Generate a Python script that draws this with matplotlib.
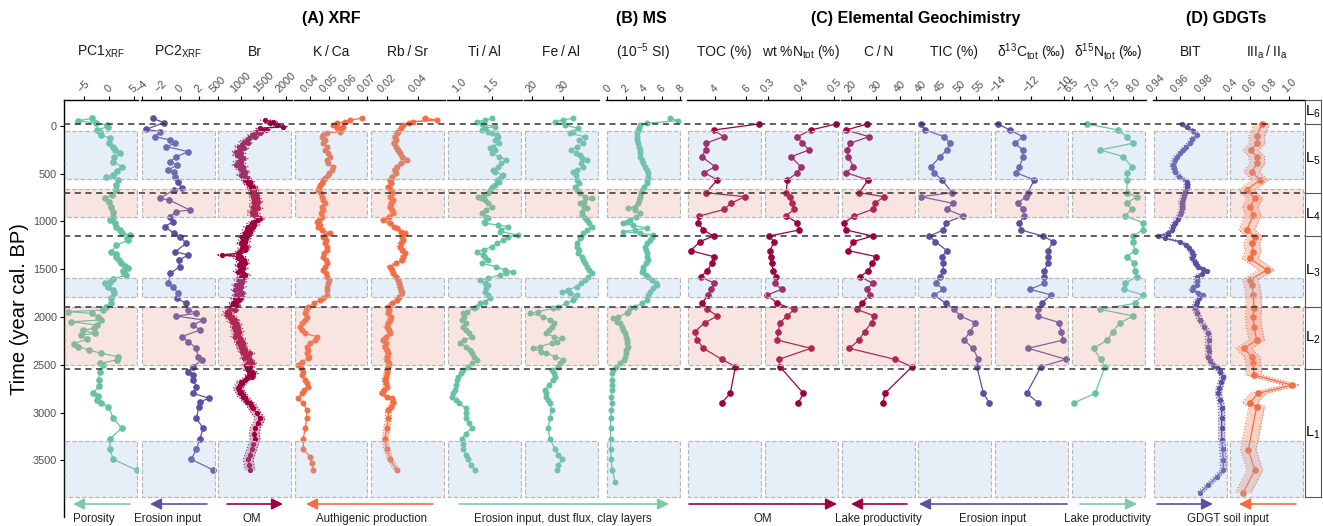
import numpy as np
import matplotlib.pyplot as plt
import matplotlib.transforms as mtransforms
from matplotlib.patches import Rectangle, FancyArrowPatch
from matplotlib.colors import to_rgba

plt.rcParams['font.family'] = ['Liberation Sans', 'DejaVu Sans']
plt.rcParams['mathtext.default'] = 'regular'

W, H = 1323, 526
GREEN, PURPLE, RED, ORANGE = '#66c2a5', '#5e4fa2', '#9e0142', '#f46d43'
TS = '\u2009'

# ---- data: (age in yr cal. BP, value) ----
pc1 = [(-80, -3.4), (-56, -6.2), (-28, -2.6), (-10, -0.4), (7, -0.2), (40, -2.4), (60, -1.8), (94, -1.5),
       (129, 0.2), (180, 0.0), (216, 0.8), (250, 1.2), (286, 2.2), (330, 1.0), (373, 0.9), (426, 2.6),
       (470, 1.7), (513, 0.9), (531, -0.5), (565, 1.9), (620, 1.5), (670, 1.5), (720, 0.6), (757, -0.8),
       (800, 0.0), (845, 0.4), (900, 0.9), (949, 0.9), (984, 0.3), (1020, 1.2), (1054, 1.5), (1090, 2.2),
       (1124, 2.6), (1141, 4.3), (1170, 3.6), (1194, 3.9), (1250, 1.5), (1316, 0.5), (1340, 1.4), (1368, 1.5),
       (1400, 2.1), (1438, 2.4), (1470, 3.3), (1490, 3.9), (1520, 2.9), (1543, 3.1), (1560, 3.5), (1600, 0.9),
       (1630, 0.2), (1647, -0.8), (1682, -0.1), (1720, 0.9), (1752, 1.1), (1800, 0.4), (1857, 0.5), (1900, -0.5),
       (1927, -1.2), (1944, -8.3), (1962, -3.5), (2000, -2.2), (2031, -1.5), (2050, -7.6), (2084, -2.5),
       (2120, -3.0), (2136, -5.3), (2171, -2.9), (2188, -5.6), (2230, -4.4), (2280, -7.0), (2311, -6.2),
       (2346, -4.0), (2380, -1.6), (2415, 1.9), (2450, 1.6), (2485, -1.8), (2502, -1.1), (2572, -1.8),
       (2659, -2.1), (2720, -2.0), (2799, -3.2), (2830, -2.2), (2869, -2.5), (2900, -1.5), (2938, -0.1),
       (3060, 0.9), (3165, 2.6), (3277, 0.2), (3385, 0.2), (3490, 0.9), (3602, 5.6)]

pc2 = [(-80, -2.8), (-35, -1.7), (35, -3.5), (59, -2.1), (112, -2.6), (147, -1.0), (182, -0.5), (216, -1.4),
       (269, 0.9), (321, -0.35), (373, -1.0), (408, -0.3), (461, -1.2), (478, -0.6), (531, -0.5), (583, -0.2),
       (653, 0.2), (670, -0.6), (757, -2.1), (775, -1.1), (880, 1.05), (897, -0.4), (949, -1.0), (1002, -0.7),
       (1054, -1.6), (1124, -0.6), (1159, 0.0), (1229, 0.7), (1316, -0.5), (1351, 0.9), (1403, -0.1),
       (1473, 0.0), (1543, -1.0), (1647, -1.2), (1682, -0.7), (1752, -0.2), (1805, -0.3), (1857, 0.7),
       (1927, 0.9), (1962, 1.75), (1990, -0.35), (2031, 2.45), (2084, 1.4), (2136, 2.1), (2206, 0.2),
       (2258, 0.9), (2328, 1.75), (2415, 1.9), (2450, 2.3), (2520, 1.4), (2572, 0.9), (2607, 1.4), (2660, 1.4),
       (2729, 1.75), (2799, 1.4), (2851, 3.1), (2887, 2.1), (2939, 2.0), (3061, 1.75), (3166, 2.45),
       (3277, 2.1), (3385, 1.75), (3490, 1.2), (3602, 3.5)]

br = [(-63, 1535), (-45, 1718), (-28, 1650), (-10, 1800), (7, 1940), (24, 1424), (42, 1560), (59, 1330),
      (77, 1420), (94, 1240), (112, 1310), (129, 1180), (147, 1129), (164, 1060), (181, 1150), (199, 1018),
      (216, 960), (234, 1080), (251, 980), (269, 900), (286, 1000), (304, 907), (321, 980), (339, 1050),
      (356, 1010), (373, 940), (391, 1000), (408, 900), (426, 1054), (443, 980), (461, 1020), (478, 1100),
      (496, 1054), (513, 1000), (530, 1090), (548, 1130), (565, 1100), (583, 1202), (600, 1150), (618, 1202),
      (635, 1280), (653, 1230), (670, 1300), (688, 1250), (705, 1240), (722, 1330), (740, 1280), (757, 1350),
      (775, 1300), (792, 1390), (810, 1300), (827, 1330), (845, 1280), (862, 1380), (880, 1290), (897, 1240),
      (914, 1320), (932, 1260), (949, 1360), (967, 1420), (984, 1386), (1002, 1300), (1019, 1240),
      (1037, 1300), (1054, 1164), (1071, 1240), (1089, 1140), (1106, 1200), (1124, 1100), (1141, 1160),
      (1159, 1018), (1176, 1120), (1194, 1050), (1211, 1100), (1228, 1000), (1246, 1080), (1263, 1120),
      (1281, 1030), (1298, 1090), (1316, 980), (1333, 944), (1351, 575), (1368, 1000), (1386, 944),
      (1403, 1060), (1420, 1010), (1438, 1090), (1455, 960), (1473, 1020), (1490, 1050), (1508, 980),
      (1525, 940), (1543, 1040), (1560, 1100), (1577, 1000), (1595, 1050), (1612, 960), (1630, 1020),
      (1647, 980), (1665, 900), (1682, 1010), (1700, 940), (1717, 880), (1735, 980), (1752, 1020), (1770, 900),
      (1787, 1000), (1804, 860), (1822, 960), (1839, 900), (1857, 832), (1874, 900), (1892, 800), (1909, 760),
      (1927, 860), (1944, 700), (1961, 740), (1979, 686), (1996, 800), (2014, 760), (2031, 880), (2049, 800),
      (2066, 900), (2084, 920), (2101, 850), (2119, 930), (2136, 880), (2153, 960), (2171, 900), (2188, 940),
      (2206, 880), (2223, 990), (2241, 1000), (2258, 940), (2275, 1040), (2293, 980), (2310, 1050),
      (2328, 1000), (2345, 1100), (2363, 1030), (2380, 1200), (2398, 1100), (2415, 1150), (2433, 1080),
      (2450, 1202), (2467, 1150), (2485, 1250), (2502, 1120), (2520, 1202), (2537, 1130), (2555, 1164),
      (2572, 1240), (2590, 1275), (2607, 1180), (2624, 1240), (2642, 1140), (2659, 1090), (2677, 1000),
      (2694, 1020), (2712, 980), (2729, 960), (2746, 943), (2764, 960), (2781, 1000), (2799, 990),
      (2816, 1050), (2834, 1040), (2851, 1091), (2869, 1120), (2886, 1140), (2904, 1200), (2921, 1230),
      (2939, 1250), (2956, 1275), (3010, 1350), (3061, 1424), (3110, 1380), (3165, 1313), (3220, 1300),
      (3277, 1313), (3330, 1280), (3385, 1239), (3440, 1200), (3490, 1164), (3550, 1180), (3602, 1202)]

kca = [(-80, 0.0671), (-63, 0.061), (-45, 0.0585), (-28, 0.054), (-10, 0.052), (7, 0.0575), (24, 0.054),
       (42, 0.0565), (59, 0.0557), (77, 0.0487), (94, 0.047), (112, 0.0461), (147, 0.0478), (181, 0.047),
       (216, 0.0487), (251, 0.0478), (286, 0.0496), (321, 0.0505), (356, 0.0487), (391, 0.0496), (426, 0.052),
       (461, 0.0514), (496, 0.05), (513, 0.0496), (548, 0.048), (565, 0.047), (600, 0.0461), (618, 0.0452),
       (653, 0.0445), (670, 0.0443), (705, 0.0455), (740, 0.0461), (775, 0.047), (810, 0.0478), (845, 0.0465),
       (880, 0.047), (914, 0.0455), (949, 0.0461), (984, 0.0445), (1002, 0.0435), (1037, 0.045), (1054, 0.0443),
       (1089, 0.0465), (1124, 0.0505), (1141, 0.048), (1159, 0.047), (1194, 0.0485), (1228, 0.0478),
       (1263, 0.049), (1298, 0.0487), (1333, 0.0475), (1368, 0.047), (1403, 0.0482), (1438, 0.0487),
       (1473, 0.0478), (1508, 0.047), (1543, 0.0482), (1577, 0.0487), (1612, 0.05), (1647, 0.0496),
       (1682, 0.049), (1717, 0.0487), (1769, 0.0487), (1804, 0.047), (1822, 0.0452), (1857, 0.042),
       (1892, 0.0391), (1927, 0.038), (1961, 0.0374), (1996, 0.0385), (2031, 0.0374), (2066, 0.036),
       (2101, 0.0348), (2136, 0.036), (2171, 0.0374), (2206, 0.0435), (2241, 0.0426), (2275, 0.04),
       (2310, 0.0383), (2345, 0.039), (2380, 0.0383), (2415, 0.0395), (2433, 0.0391), (2467, 0.036),
       (2502, 0.0339), (2537, 0.0355), (2572, 0.0365), (2607, 0.0356), (2659, 0.0374), (2694, 0.0385),
       (2729, 0.0391), (2764, 0.037), (2799, 0.0356), (2851, 0.0339), (2904, 0.0365), (2974, 0.0383),
       (3061, 0.0383), (3165, 0.0374), (3277, 0.0365), (3385, 0.0365), (3462, 0.04), (3532, 0.0409),
       (3602, 0.0417)]

rbsr = [(-80, 0.0442), (-63, 0.0517), (-45, 0.0368), (-28, 0.034), (-10, 0.0305), (24, 0.029), (59, 0.027),
        (77, 0.0263), (112, 0.025), (147, 0.0256), (181, 0.0245), (216, 0.026), (251, 0.027), (286, 0.0284),
        (321, 0.03), (356, 0.0327), (391, 0.029), (426, 0.0263), (461, 0.025), (496, 0.0256), (530, 0.0235),
        (565, 0.0221), (600, 0.023), (635, 0.021), (670, 0.0225), (705, 0.0235), (740, 0.0221), (775, 0.0242),
        (810, 0.023), (845, 0.0221), (880, 0.0235), (914, 0.0242), (949, 0.0215), (984, 0.0178), (1019, 0.0221),
        (1054, 0.0245), (1071, 0.0263), (1106, 0.029), (1124, 0.0316), (1159, 0.03), (1194, 0.0305),
        (1228, 0.029), (1263, 0.0284), (1298, 0.03), (1333, 0.0316), (1368, 0.0305), (1403, 0.0295),
        (1438, 0.026), (1473, 0.0221), (1508, 0.0235), (1543, 0.0242), (1577, 0.026), (1612, 0.0274),
        (1647, 0.028), (1682, 0.0284), (1717, 0.029), (1752, 0.0295), (1787, 0.028), (1822, 0.0263),
        (1857, 0.0235), (1892, 0.021), (1927, 0.0215), (1961, 0.021), (1996, 0.0225), (2031, 0.0221),
        (2066, 0.021), (2101, 0.02), (2136, 0.0215), (2171, 0.0221), (2206, 0.0195), (2241, 0.0178),
        (2275, 0.0195), (2310, 0.0189), (2345, 0.02), (2380, 0.021), (2415, 0.0205), (2450, 0.02),
        (2485, 0.0215), (2520, 0.021), (2555, 0.0205), (2590, 0.02), (2624, 0.0195), (2659, 0.0189),
        (2694, 0.0195), (2729, 0.02), (2764, 0.0185), (2799, 0.0168), (2834, 0.02), (2851, 0.0232),
        (2886, 0.024), (2904, 0.0242), (2939, 0.0225), (2974, 0.021), (3061, 0.021), (3165, 0.02),
        (3277, 0.0189), (3385, 0.02), (3490, 0.0221), (3602, 0.0263)]

tial = [(-80, 1.5), (-63, 1.4), (-45, 1.27), (-21, 1.35), (7, 1.55), (24, 1.4), (42, 1.35), (59, 1.45),
        (77, 1.5), (94, 1.58), (112, 1.6), (147, 1.55), (181, 1.61), (216, 1.52), (234, 1.47), (251, 1.55),
        (286, 1.5), (321, 1.62), (356, 1.73), (391, 1.65), (426, 1.6), (461, 1.52), (478, 1.55), (513, 1.68),
        (530, 1.65), (565, 1.58), (583, 1.62), (618, 1.55), (635, 1.5), (670, 1.48), (705, 1.45), (722, 1.38),
        (740, 1.29), (757, 1.34), (775, 1.39), (810, 1.45), (845, 1.5), (880, 1.42), (914, 1.35), (949, 1.42),
        (967, 1.45), (1002, 1.38), (1019, 1.4), (1037, 1.6), (1054, 1.76), (1089, 1.65), (1106, 1.63),
        (1141, 1.91), (1159, 1.75), (1194, 1.68), (1228, 1.58), (1263, 1.5), (1298, 1.38), (1316, 1.27),
        (1351, 1.36), (1368, 1.4), (1403, 1.45), (1438, 1.35), (1473, 1.57), (1508, 1.7), (1525, 1.83),
        (1543, 1.72), (1560, 1.63), (1595, 1.45), (1612, 1.32), (1647, 1.4), (1665, 1.45), (1700, 1.42),
        (1735, 1.4), (1770, 1.45), (1804, 1.47), (1839, 1.4), (1857, 1.32), (1892, 1.26), (1909, 1.22),
        (1944, 1.12), (1961, 1.06), (1996, 1.08), (2031, 1.04), (2066, 1.1), (2101, 1.05), (2136, 1.11),
        (2171, 1.15), (2206, 1.19), (2241, 1.08), (2275, 1.01), (2310, 1.1), (2345, 1.16), (2380, 1.2),
        (2415, 1.22), (2450, 1.27), (2485, 1.2), (2520, 1.14), (2555, 1.06), (2590, 1.02), (2624, 0.98),
        (2659, 0.96), (2712, 0.95), (2764, 0.93), (2799, 0.9), (2834, 0.88), (2869, 0.95), (2904, 0.99),
        (2956, 1.11), (3010, 1.1), (3061, 1.11), (3110, 1.15), (3165, 1.19), (3220, 1.1), (3277, 1.04),
        (3330, 1.05), (3385, 1.06), (3440, 1.1), (3490, 1.14), (3550, 1.18), (3602, 1.24)]

feal = [(-80, 33.1), (-63, 30.0), (-45, 27.4), (-10, 30.5), (24, 34.7), (59, 33.0), (77, 32.1), (112, 36.8),
        (147, 35.0), (181, 36.3), (216, 34.5), (251, 32.6), (286, 34.0), (304, 35.3), (339, 36.0), (356, 37.4),
        (391, 35.5), (426, 36.3), (461, 34.5), (478, 33.1), (513, 34.0), (565, 34.2), (600, 35.0), (635, 33.7),
        (670, 34.5), (705, 35.3), (740, 37.0), (757, 39.0), (792, 36.5), (810, 35.3), (845, 36.5), (862, 37.4),
        (897, 36.0), (932, 35.8), (967, 36.8), (984, 37.4), (1019, 38.0), (1054, 39.0), (1089, 37.5),
        (1124, 36.3), (1159, 35.5), (1176, 35.3), (1228, 34.5), (1263, 34.2), (1298, 35.0), (1333, 34.7),
        (1368, 35.8), (1403, 36.3), (1438, 36.8), (1473, 37.4), (1508, 38.2), (1543, 39.0), (1577, 37.8),
        (1612, 36.8), (1647, 35.5), (1682, 34.2), (1717, 31.5), (1735, 29.5), (1752, 32.0), (1769, 34.2),
        (1804, 33.5), (1822, 33.1), (1857, 31.0), (1892, 28.5), (1909, 26.8), (1944, 22.0), (1961, 19.5),
        (1996, 23.5), (2031, 25.8), (2066, 27.0), (2101, 26.3), (2136, 25.5), (2171, 24.7), (2206, 27.0),
        (2223, 29.5), (2258, 28.0), (2275, 26.3), (2310, 22.5), (2328, 20.5), (2363, 23.0), (2380, 24.7),
        (2415, 27.5), (2450, 30.0), (2485, 29.0), (2520, 28.4), (2555, 26.3), (2590, 27.0), (2624, 27.4),
        (2659, 26.8), (2712, 25.5), (2764, 24.2), (2799, 24.5), (2834, 24.7), (2869, 25.2), (2904, 25.8),
        (2974, 26.3), (3061, 25.8), (3165, 25.2), (3277, 25.8), (3385, 27.4), (3440, 28.5), (3490, 29.5),
        (3550, 28.5), (3602, 27.9)]

ms_si = [(-80, 6.9), (-56, 7.8), (-28, 4.33), (-10, 3.6), (24, 3.5), (42, 3.4), (77, 3.3), (112, 3.23),
         (147, 3.3), (181, 3.4), (216, 3.5), (251, 3.6), (286, 3.55), (321, 3.6), (356, 3.8), (391, 3.96),
         (426, 4.1), (461, 4.33), (496, 4.45), (530, 4.51), (565, 4.4), (600, 4.33), (635, 4.0), (670, 3.78),
         (705, 3.7), (740, 3.6), (775, 3.5), (810, 3.4), (845, 3.0), (862, 2.31), (880, 3.0), (914, 3.6),
         (949, 3.2), (984, 2.5), (1002, 2.2), (1019, 1.76), (1037, 2.8), (1071, 4.33), (1089, 3.0), (1106, 1.76),
         (1124, 3.6), (1141, 5.06), (1159, 4.9), (1194, 4.7), (1228, 4.4), (1263, 4.15), (1298, 4.2),
         (1333, 4.33), (1368, 4.4), (1403, 4.51), (1438, 4.3), (1473, 3.96), (1508, 3.9), (1525, 3.78),
         (1560, 4.2), (1577, 4.51), (1612, 4.9), (1647, 5.3), (1665, 5.43), (1700, 5.0), (1735, 4.7),
         (1770, 4.5), (1822, 4.33), (1857, 3.8), (1892, 3.0), (1909, 2.5), (1944, 2.3), (1961, 2.13),
         (1996, 1.2), (2014, 0.66), (2049, 1.1), (2066, 1.4), (2101, 1.6), (2136, 1.76), (2171, 1.9),
         (2206, 2.0), (2241, 2.13), (2275, 2.2), (2310, 2.31), (2345, 2.1), (2380, 2.0), (2415, 1.95),
         (2450, 1.8), (2485, 1.4), (2520, 0.9), (2555, 0.6), (2590, 0.55), (2659, 0.5), (2712, 0.55),
         (2764, 0.5), (2834, 0.45), (2904, 0.5), (2974, 0.45), (3061, 0.35), (3165, 0.35), (3277, 0.35),
         (3385, 0.35), (3490, 0.4), (3602, 0.55), (3724, 0.85)]

# discrete bulk-sediment samples (elemental geochemistry)
geo_age = [-21, 42, 112, 181, 251, 321, 426, 489, 565, 698, 740, 810, 873, 942, 1012, 1089, 1152, 1211,
           1305, 1368, 1431, 1518, 1577, 1647, 1710, 1769, 1857, 1920, 1989, 2059, 2153, 2241, 2328,
           2443, 2520, 2799, 2897]
toc = [6.8, 3.9, 4.55, 3.4, 3.4, 3.14, 4.0, 3.3, 4.15, 3.4, 5.9, 5.0, 4.6, 3.0, 2.9, 3.25, 3.9, 3.03,
       2.43, 3.9, 3.8, 3.5, 3.07, 3.94, 3.72, 3.57, 3.14, 3.5, 4.15, 3.35, 2.7, 2.86, 3.25, 4.43, 5.3,
       4.97, 4.43]
ntot = [0.505, 0.429, 0.388, 0.403, 0.424, 0.369, 0.398, 0.388, 0.358, 0.354, 0.366, 0.372, 0.378,
        0.353, 0.388, 0.393, 0.303, 0.317, 0.305, 0.307, 0.31, 0.315, 0.323, 0.32, 0.34, 0.297, 0.327,
        0.378, 0.358, 0.335, 0.33, 0.327, 0.429, 0.332, 0.335, 0.406, 0.391]
cn = [26.6, 18.0, 27.3, 19.6, 18.3, 18.9, 20.9, 18.0, 27.0, 23.3, 33.4, 29.8, 28.8, 21.3, 17.2, 18.0,
      28.8, 20.9, 18.9, 30.2, 28.7, 27.0, 23.7, 28.8, 26.4, 27.7, 24.3, 22.3, 29.5, 28.4, 25.5, 23.3,
      19.3, 37.9, 44.9, 33.8, 33.1]
tic = [40.0, 41.1, 46.0, 47.5, 46.7, 45.0, 42.6, 43.4, 45.4, 48.1, 40.0, 48.2, 46.7, 50.8, 46.4, 45.8,
       42.2, 43.7, 46.7, 45.4, 45.7, 45.8, 45.0, 43.8, 45.8, 43.4, 46.4, 48.6, 50.1, 54.0, 52.7, 51.1,
       53.4, 54.8, 54.4, 56.1, 57.6]
d13c = [-14.0, -13.26, -12.5, -12.96, -12.5, -12.46, -12.7, -12.9, -11.8, -12.2, -12.3, -12.8, -12.46,
        -12.4, -12.7, -12.6, -11.3, -10.66, -11.0, -10.96, -11.0, -11.2, -11.2, -11.2, -12.06, -10.8,
        -11.36, -11.6, -11.6, -10.3, -10.2, -10.06, -12.16, -9.9, -11.4, -12.26, -11.56]
d15n = [6.87, 7.63, 7.84, 7.99, 7.19, 7.76, 7.96, 7.85, 7.85, 7.84, 8.08, 7.84, 7.96, 7.8, 8.23, 8.23,
        7.99, 7.99, 8.04, 7.84, 8.02, 8.04, 8.08, 7.8, 7.77, 8.23, 8.04, 7.19, 8.0, 7.68, 7.5, 7.37, 7.03,
        7.2, 7.31, 7.07, 6.56]

bit = [(-21, 0.9614), (15, 0.966), (49, 0.971), (94, 0.9737), (140, 0.97), (181, 0.9682), (216, 0.965),
       (251, 0.9627), (286, 0.96), (321, 0.9573), (360, 0.9555), (408, 0.954), (445, 0.955), (478, 0.9559),
       (530, 0.9595), (583, 0.9655), (620, 0.966), (653, 0.9655), (690, 0.964), (722, 0.9633), (760, 0.9625),
       (792, 0.9614), (830, 0.9618), (862, 0.962), (900, 0.961), (932, 0.96), (970, 0.958), (1012, 0.9559),
       (1050, 0.9545), (1089, 0.9532), (1124, 0.9504), (1152, 0.9421), (1176, 0.948), (1211, 0.96),
       (1246, 0.965), (1281, 0.9677), (1316, 0.9695), (1351, 0.971), (1386, 0.97), (1420, 0.9723),
       (1450, 0.9735), (1473, 0.975), (1500, 0.979), (1518, 0.982), (1545, 0.978), (1577, 0.9737),
       (1620, 0.974), (1665, 0.9737), (1690, 0.971), (1717, 0.9696), (1745, 0.975), (1769, 0.9792),
       (1800, 0.976), (1839, 0.9737), (1870, 0.973), (1909, 0.9723), (1960, 0.974), (2031, 0.9765),
       (2100, 0.98), (2171, 0.9833), (2240, 0.9835), (2310, 0.9833), (2360, 0.9836), (2415, 0.9833),
       (2460, 0.985), (2502, 0.9874), (2520, 0.9902), (2572, 0.9929), (2624, 0.9956), (2680, 0.994),
       (2740, 0.9925), (2799, 0.9915), (2870, 0.993), (2956, 0.9943), (3061, 0.9943), (3165, 0.9943),
       (3288, 0.9943), (3385, 0.9951), (3500, 0.9955), (3602, 0.9956), (3672, 0.9902), (3760, 0.983),
       (3839, 0.9765)]

iii_ii = [(-21, 0.719), (105, 0.668), (181, 0.675), (251, 0.606), (321, 0.668), (391, 0.675), (478, 0.616),
          (565, 0.702), (670, 0.565), (757, 0.65), (845, 0.599), (932, 0.633), (1089, 0.565), (1159, 0.65),
          (1228, 0.616), (1316, 0.633), (1386, 0.599), (1508, 0.771), (1612, 0.599), (1665, 0.62),
          (1769, 0.633), (1909, 0.64), (1996, 0.63), (2101, 0.64), (2241, 0.668), (2328, 0.537),
          (2415, 0.616), (2485, 0.633), (2607, 0.64), (2712, 1.028), (2799, 0.684), (2897, 0.599),
          (2939, 0.668), (3392, 0.581), (3602, 0.65), (3839, 0.53)]

# zones and lithological units
blue_zones = [(49, 552), (1592, 1791), (3298, 3885)]
pink_zones = [(660, 950), (1895, 2503)]
unit_bounds = [-20, 700, 1150, 1893, 2545]
unit_labels = ['L$_6$', 'L$_5$', 'L$_4$', 'L$_3$', 'L$_2$', 'L$_1$']
age_ticks = [0, 500, 1000, 1500, 2000, 2500, 3000, 3500]


def pairs(p):
    a = np.array(p, dtype=float)
    return a[:, 0], a[:, 1]


geo = np.array(geo_age, dtype=float)

# title, x0, x1 (px), xlim, ticks, tick labels, (age, values), colour, error half-width, marker size
panels = [
    ('PC1$_{XRF}$', 64, 138, (-9.1, 5.9), [-5, 0, 5], ['\u22125', '0', '5'], pairs(pc1), GREEN, None, 3.8),
    ('PC2$_{XRF}$', 141, 216, (-4.07, 3.8), [-4, -2, 0, 2], ['\u22124', '\u22122', '0', '2'], pairs(pc2), PURPLE, None, 3.8),
    ('Br', 217, 292, (470, 2135), [500, 1000, 1500, 2000], ['500', '1000', '1500', '2000'], pairs(br), RED, 110, 2.8),
    ('K' + TS + '/' + TS + 'Ca', 294, 368, (0.0316, 0.0704), [0.04, 0.05, 0.06, 0.07], ['0.04', '0.05', '0.06', '0.07'], pairs(kca), ORANGE, None, 3.3),
    ('Rb' + TS + '/' + TS + 'Sr', 370, 445, (0.0094, 0.057), [0.02, 0.04], ['0.02', '0.04'], pairs(rbsr), ORANGE, 0.0018, 3.3),
    ('Ti' + TS + '/' + TS + 'Al', 447, 522, (0.81, 1.97), [1.0, 1.5], ['1.0', '1.5'], pairs(tial), GREEN, None, 3.3),
    ('Fe' + TS + '/' + TS + 'Al', 524, 599, (17.6, 41.3), [20, 30], ['20', '30'], pairs(feal), GREEN, None, 3.3),
    ('(10$^{-5}$ SI)', 606, 681, (-0.15, 8.1), [0, 2, 4, 6, 8], ['0', '2', '4', '6', '8'], pairs(ms_si), GREEN, None, 3.3),
    ('TOC (%)', 687, 762, (2.2, 7.0), [4, 6], ['4', '6'], (geo, np.array(toc)), RED, None, 3.8),
    ('wt %N$_{tot}$ (%)', 764, 839, (0.287, 0.514), [0.3, 0.4, 0.5], ['0.3', '0.4', '0.5'], (geo, np.array(ntot)), RED, None, 3.8),
    ('C' + TS + '/' + TS + 'N', 841, 916, (15.9, 46.5), [20, 30, 40], ['20', '30', '40'], (geo, np.array(cn)), RED, None, 3.8),
    ('TIC (%)', 917, 992, (39.0, 58.3), [40, 45, 50, 55], ['40', '45', '50', '55'], (geo, np.array(tic)), PURPLE, None, 3.8),
    ('\u03b4$^{13}$C$_{tot}$ (\u2030)', 994, 1069, (-14.22, -9.72), [-14, -12, -10], ['\u221214', '\u221212', '\u221210'], (geo, np.array(d13c)), PURPLE, None, 3.8),
    ('\u03b4$^{15}$N$_{tot}$ (\u2030)', 1071, 1146, (6.48, 8.31), [6.5, 7.0, 7.5, 8.0], ['6.5', '7.0', '7.5', '8.0'], (geo, np.array(d15n)), GREEN, None, 3.8),
    ('BIT', 1153, 1228, (0.9378, 0.9995), [0.94, 0.96, 0.98], ['0.94', '0.96', '0.98'], pairs(bit), PURPLE, 0.0025, 2.8),
    ('III$_a$' + TS + '/' + TS + 'II$_a$', 1229, 1304, (0.383, 1.155), [0.4, 0.6, 0.8, 1.0], ['0.4', '0.6', '0.8', '1.0'], pairs(iii_ii), ORANGE, 0.08, 3.8),
]

fig = plt.figure(figsize=(W / 100, H / 100), dpi=100)


def px_axes(x0, x1, y0, y1):
    return fig.add_axes([x0 / W, 1 - y1 / H, (x1 - x0) / W, (y1 - y0) / H])


Y_TOP, Y_BOT = -272, 4094
TICK_GRAY = '#4d4d4d'

for i, (title, x0, x1, xlim, ticks, tlabels, (age, val), col, err, msz) in enumerate(panels):
    ax = px_axes(x0, x1, 100, 517)
    ax.patch.set_visible(False)
    if err is not None:
        ax.fill_betweenx(age, val - err, val + err, color=col, alpha=0.3, lw=0, zorder=1)
        ax.plot(val - err, age, ls=':', color=col, lw=0.8, zorder=1)
        ax.plot(val + err, age, ls=':', color=col, lw=0.8, zorder=1)
    ax.plot(val, age, '-o', color=col, ms=msz, lw=0.9, mec=col, zorder=2)
    trans = mtransforms.blended_transform_factory(ax.transAxes, ax.transData)
    for zones, fc in ((blue_zones, '#9fbfe3'), (pink_zones, '#e79b8b')):
        for y0, y1 in zones:
            ax.add_patch(Rectangle((0.012, y0), 0.976, y1 - y0, transform=trans,
                                   facecolor=to_rgba(fc, 0.25), edgecolor='#b8b8b8',
                                   ls='--', lw=0.9, zorder=3))
    ax.set_xlim(*xlim)
    ax.set_ylim(Y_BOT, Y_TOP)
    for s in ('right', 'bottom', 'left'):
        ax.spines[s].set_visible(False)
    ax.spines['top'].set_linewidth(1.0)
    ax.xaxis.set_ticks_position('top')
    ax.set_xticks(ticks)
    ax.set_xticklabels(tlabels, rotation=45, ha='center', va='bottom')
    ax.tick_params(axis='x', length=3, width=0.8, pad=1, labelsize=7.8, labelcolor=TICK_GRAY)
    if i == 0:
        ax.spines['left'].set_visible(True)
        ax.spines['left'].set_linewidth(1.0)
        ax.set_yticks(age_ticks)
        ax.tick_params(axis='y', length=3, width=0.8, labelsize=7.8, labelcolor=TICK_GRAY, pad=2)
    else:
        ax.tick_params(axis='y', left=False, labelleft=False)
    fig.text((x0 + x1) / 2 / W, 1 - 52 / H, title, ha='center', va='center', fontsize=10, color='#1a1a1a')

# unit boundaries across all panels
bg = px_axes(64, 1305, 100, 517)
bg.set_ylim(Y_BOT, Y_TOP)
bg.axis('off')
bg.patch.set_visible(False)
for yb in unit_bounds:
    bg.axhline(yb, color='#333333', lw=1.1, dashes=(4, 3), zorder=10)

# lithological unit column
axl = px_axes(1305, 1321, 100, 497)
axl.set_ylim(3885, Y_TOP)
axl.set_xticks([])
axl.set_yticks([])
for s in axl.spines.values():
    s.set_color('#555555')
    s.set_linewidth(0.8)
for yb in unit_bounds:
    axl.axhline(yb, color='#555555', lw=0.8)
edges = [Y_TOP] + unit_bounds + [3885]
for k, lab in enumerate(unit_labels):
    axl.text(0.5, (edges[k] + edges[k + 1]) / 2, lab, transform=mtransforms.blended_transform_factory(
        axl.transAxes, axl.transData), ha='center', va='center', fontsize=10.5)

# group headers and axis label
for text, xc in (('(A) XRF', 331), ('(B) MS', 641), ('(C) Elemental Geochimistry', 916), ('(D) GDGTs', 1226)):
    fig.text(xc / W, 1 - 19 / H, text, ha='center', va='center', fontsize=11.5, fontweight='bold')
fig.text(20 / W, 1 - 309 / H, 'Time (year cal. BP)', rotation=90, ha='center', va='center', fontsize=14.5)

# interpretation arrows
GREEN_L = '#7fc9a9'
arrows = [
    ('Porosity', 130, 73, GREEN_L, 94),
    ('Erosion input', 207, 150, PURPLE, 168),
    ('OM', 227, 283, RED, 252),
    ('Authigenic production', 433, 306, ORANGE, 372),
    ('Erosion input, dust flux, clay layers', 459, 669, GREEN_L, 563),
    ('OM', 689, 837, RED, 763),
    ('Lake productivity', 907, 851, RED, 878),
    ('Erosion input', 1067, 919, PURPLE, 993),
    ('Lake productivity', 1080, 1137, GREEN_L, 1107),
    ('', 1157, 1213, PURPLE, None),
    ('GDGT soil input', 1296, 1239, ORANGE, 1228),
]
for lab, xs, xe, col, xt in arrows:
    fig.add_artist(FancyArrowPatch((xs / W, 1 - 504 / H), (xe / W, 1 - 504 / H), transform=fig.transFigure,
                                   arrowstyle='-|>', mutation_scale=17, color=col, lw=1.2,
                                   shrinkA=0, shrinkB=0))
    if lab:
        fig.text(xt / W, 1 - 519 / H, lab, ha='center', va='center', fontsize=8.3, color='#222222')

fig.savefig('out.png', dpi=100)
